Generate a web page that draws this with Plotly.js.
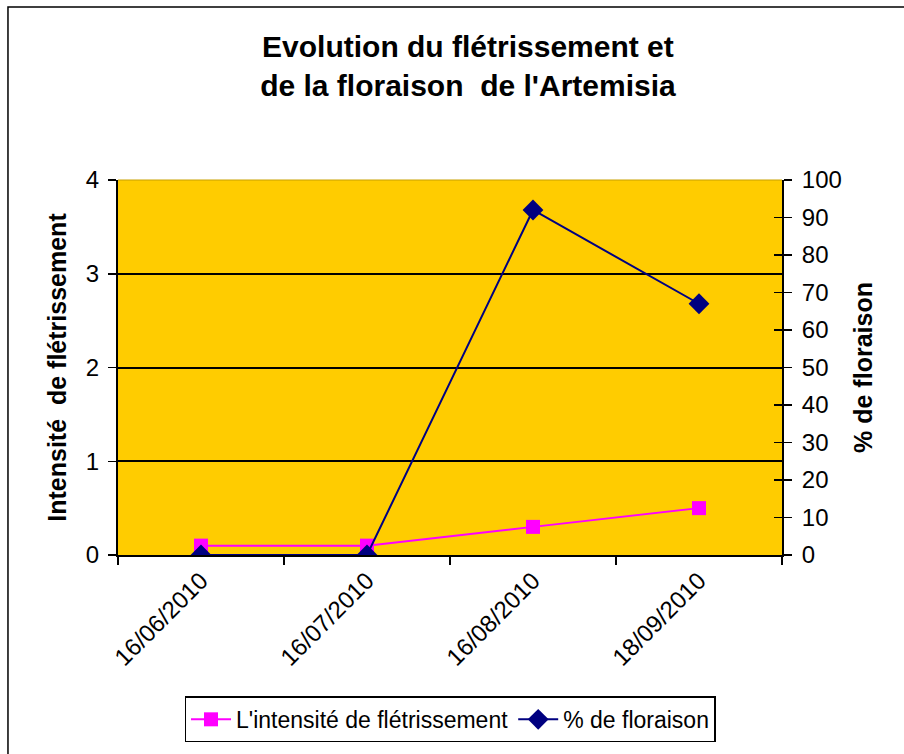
<!DOCTYPE html>
<html>
<head>
<meta charset="utf-8">
<script src="https://cdn.plot.ly/plotly-3.0.1.min.js"></script>
<style>html,body{margin:0;padding:0;background:#fff;}#chart{width:904px;height:754px;}</style>
</head>
<body>
<div id="chart"></div>
<script>
const dates = ["16/06/2010", "16/07/2010", "16/08/2010", "18/09/2010"];
const intensite = [0.1, 0.1, 0.3, 0.5];
const floraison = [0, 0, 92, 67];
const leftTicks = [0, 1, 2, 3, 4];
const rightTicks = [0, 10, 20, 30, 40, 50, 60, 70, 80, 90, 100];

const FONT = "'Liberation Sans', Arial, sans-serif";

const traces = [
  {
    x: dates, y: intensite, name: "L'intensité de flétrissement",
    type: "scatter", mode: "lines+markers", yaxis: "y",
    line: {color: "#FF00FF", width: 2},
    marker: {symbol: "square", size: 14, color: "#FF00FF"}
  },
  {
    x: dates, y: floraison, name: "% de floraison",
    type: "scatter", mode: "lines+markers", yaxis: "y2",
    line: {color: "#000080", width: 2},
    marker: {symbol: "diamond", size: 16, color: "#000080"}
  }
];

const layout = {
  width: 904, height: 754,
  margin: {l: 118, r: 122, t: 180, b: 197},
  paper_bgcolor: "#FFFFFF",
  plot_bgcolor: "#FFCC00",
  font: {family: FONT, size: 23, color: "#000"},
  title: {
    text: "Evolution du flétrissement et<br>de la floraison  de l'Artemisia",
    font: {family: FONT, size: 30, color: "#000", weight: "bold"},
    x: 0.527, xref: "paper", xanchor: "center",
    y: 0.925, yref: "container", yanchor: "middle"
  },
  showlegend: true,
  legend: {
    orientation: "h", x: 0.5, xanchor: "center", xref: "paper",
    y: -0.377, yanchor: "top",
    bordercolor: "#000", borderwidth: 1.5, bgcolor: "#fff",
    font: {family: FONT, size: 23, color: "#000"},
    itemwidth: 40
  },
  xaxis: {
    type: "category",
    tickson: "boundaries",
    ticks: "outside", ticklen: 8, tickcolor: "#000", tickwidth: 1.5,
    tickangle: -45,
    showline: true, linecolor: "#000", linewidth: 2,
    showgrid: false, zeroline: false,
    tickfont: {family: FONT, size: 24, color: "#000"},
    range: [-0.5, 3.5], fixedrange: true
  },
  yaxis: {
    range: [0, 4], tickvals: leftTicks, ticktext: leftTicks.map(String),
    ticks: "outside", ticklen: 8, tickcolor: "#000", tickwidth: 1.5,
    ticklabelstandoff: 4,
    showline: true, linecolor: "#000", linewidth: 2,
    showgrid: true, gridcolor: "#000", gridwidth: 2,
    zeroline: false,
    tickfont: {family: FONT, size: 24, color: "#000"},
    title: {text: "Intensité  de flétrissement", font: {family: FONT, size: 25, color: "#000", weight: "bold"}, standoff: 12}
  },
  yaxis2: {
    range: [0, 100], tickvals: rightTicks, ticktext: rightTicks.map(String),
    overlaying: "y", side: "right",
    ticks: "outside", ticklen: 8, tickcolor: "#000", tickwidth: 1.5,
    ticklabelstandoff: 5,
    showline: true, linecolor: "#000", linewidth: 2,
    showgrid: false, zeroline: false,
    tickfont: {family: FONT, size: 24, color: "#000"},
    title: {text: "% de floraison", font: {family: FONT, size: 25, color: "#000", weight: "bold"}, standoff: 14}
  },
  yaxis3: {
    range: [0, 4], tickvals: leftTicks, overlaying: "y", side: "left",
    ticks: "inside", ticklen: 8, tickcolor: "#000", tickwidth: 1.5,
    showticklabels: false, showgrid: false, zeroline: false, showline: false
  },
  yaxis4: {
    range: [0, 100], tickvals: rightTicks, overlaying: "y", side: "right",
    ticks: "inside", ticklen: 8, tickcolor: "#000", tickwidth: 1.5,
    showticklabels: false, showgrid: false, zeroline: false, showline: false
  },
  shapes: [
    {type: "rect", xref: "paper", yref: "paper", x0: -0.1657, x1: 1.2, y0: -0.54, y1: 1.4615,
     line: {color: "#000", width: 1.5}, fillcolor: "rgba(0,0,0,0)", layer: "below"},
    {type: "line", xref: "paper", yref: "paper", x0: 0, x1: 1, y0: 1, y1: 1,
     line: {color: "#C8A000", width: 1}}
  ]
};

traces.push({x: [dates[0]], y: [0], yaxis: "y3", type: "scatter", mode: "markers", marker: {opacity: 0}, showlegend: false, hoverinfo: "skip"});
traces.push({x: [dates[0]], y: [0], yaxis: "y4", type: "scatter", mode: "markers", marker: {opacity: 0}, showlegend: false, hoverinfo: "skip"});

Plotly.newPlot("chart", traces, layout, {staticPlot: true, displayModeBar: false});
</script>
</body>
</html>
